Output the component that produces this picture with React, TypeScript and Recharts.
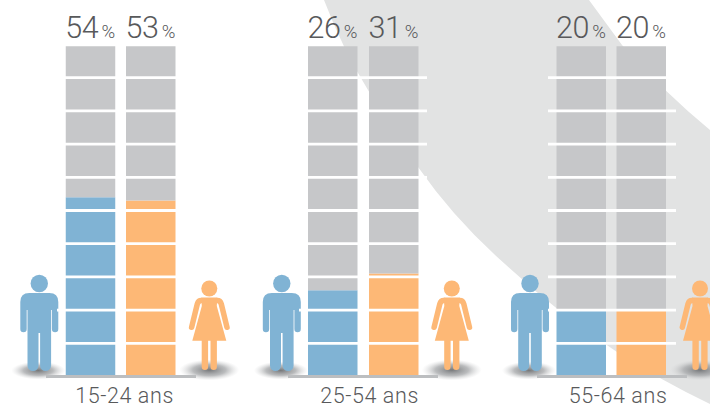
import React from "react";
import { BarChart, Bar, Cell, XAxis, YAxis, ReferenceLine, LabelList } from "recharts";

// values (% per age group)
const ageGroups = ["15-24 ans", "25-54 ans", "55-64 ans"];
const sexes = ["Hommes", "Femmes"];
const menValues = [54, 26, 20];
const womenValues = [53, 31, 20];
const gridTicks = [10, 20, 30, 40, 50, 60, 70, 80, 90];
const BAR_MAX = 99.5;

const axisLefts = [46, 288, 537];
const axisPads = [
  [14.75, 14.75],
  [14, 14],
  [14.5, 15.5],
];
const labelShift = [3.5, 6.5, 6];
const manCenters = [39.3, 281.8, 530];
const womanCenters = [209.3, 451.8, 700];

const BLUE = "#80b3d4";
const ORANGE = "#fdb876";
const GREY = "#c6c7c9";
const TEXT = "#58595b";
const COLORS = [BLUE, ORANGE];

const Man = ({ x }: { x: number }) => (
  <g transform={`translate(${x},370)`} fill={BLUE}>
    <ellipse cx={-1} cy={0.5} rx={27} ry={9} fill="url(#shadow)" />
    <circle cx={0} cy={-86.5} r={8.7} />
    <path d="M-19 -41 V-68 Q-19 -77 -10 -77 H10 Q19 -77 19 -68 V-41 A3.2 3.2 0 0 1 12.6 -41 V-60 H11.8 V-4.5 A5 5 0 0 1 0.8 -4.5 V-37 H-0.8 V-4.5 A5 5 0 0 1 -11.8 -4.5 V-60 H-12.6 V-41 A3.2 3.2 0 0 1 -19 -41 Z" />
  </g>
);

const Woman = ({ x }: { x: number }) => (
  <g transform={`translate(${x},370)`} fill={ORANGE}>
    <ellipse cx={0} cy={0} rx={30} ry={10.5} fill="url(#shadow)" />
    <circle cx={0} cy={-81.5} r={8} />
    <path d="M-8 -72.5 H8 L7.5 -64 L17 -29.3 H-17 L-7.5 -64 Z" />
    <path d="M-8 -69.5 Q-11 -69.5 -12 -66 L-17.7 -42.7 M8 -69.5 Q11 -69.5 12 -66 L17.7 -42.7" fill="none" stroke={ORANGE} strokeWidth={5.5} strokeLinecap="round" />
    <path d="M-7.6 -30 H-1.2 V-3.2 A3.2 3.2 0 0 1 -7.6 -3.2 Z M1.2 -30 H7.6 V-3.2 A3.2 3.2 0 0 1 1.2 -3.2 Z" />
  </g>
);

const PctLabel = (props: any) => {
  const { x, width, value } = props;
  return (
    <g fill={TEXT} fontFamily="Roboto" fontWeight={300}>
      <text x={x - 0.5} y={37.5} fontSize={30.5} letterSpacing={-0.3}>
        {value}
      </text>
      <text x={x + width} y={38} fontSize={18.5} textAnchor="end">
        %
      </text>
    </g>
  );
};

const GridLine = (props: any) => (
  <line x1={props.x1 + 11} x2={props.x2 - 11} y1={props.y1} y2={props.y2} stroke="#fff" strokeWidth={2.8} />
);

const AgeChart = ({ index }: { index: number }) => {
  const data = sexes.map((sex, i) => {
    const pct = i === 0 ? menValues[index] : womenValues[index];
    return { sex, pct, rest: BAR_MAX - pct };
  });

  return (
    <div style={{ position: "absolute", top: 0, left: axisLefts[index] }}>
      <BarChart width={150} height={404} data={data} margin={{ top: 44.5, right: 0, bottom: 0, left: 0 }} barSize={49.5}>
        <XAxis
          dataKey="sex"
          height={27.5}
          tick={false}
          tickLine={false}
          axisLine={{ stroke: "#bcbec0", strokeWidth: 3 }}
          padding={{ left: axisPads[index][0], right: axisPads[index][1] }}
          label={{
            value: ageGroups[index],
            position: "insideBottom",
            offset: 1,
            dx: labelShift[index],
            fill: TEXT,
            fontSize: 21.5,
            letterSpacing: 0.6,
            fontFamily: "Roboto",
            fontWeight: 300,
          }}
        />
        <YAxis hide domain={[0, 100]} />
        <Bar dataKey="pct" stackId="a" isAnimationActive={false}>
          {data.map((d, i) => (
            <Cell key={d.sex} fill={COLORS[i]} />
          ))}
        </Bar>
        <Bar dataKey="rest" stackId="a" fill={GREY} isAnimationActive={false}>
          <LabelList dataKey="pct" content={<PctLabel />} />
        </Bar>
        {gridTicks.map((t) => (
          <ReferenceLine key={t} y={t} shape={<GridLine />} />
        ))}
      </BarChart>
    </div>
  );
};

export default function App() {
  return (
    <div style={{ position: "absolute", top: 0, left: 0, width: 710, height: 404, overflow: "hidden", background: "#fff" }}>
      <svg width={710} height={404} style={{ position: "absolute", top: 0, left: 0 }}>
        <defs>
          <radialGradient id="shadow">
            <stop offset="0%" stopColor="#77797b" />
            <stop offset="55%" stopColor="#a9abad" stopOpacity={0.8} />
            <stop offset="100%" stopColor="#d5d6d7" stopOpacity={0} />
          </radialGradient>
        </defs>
        <path
          d="M324 0 Q343 50 368 90 Q392 130 418 167 Q455 220 505 264 Q560 315 617 352 Q660 380 710 404 V130 Q665 93 622 45 L589 0 Z"
          fill="#e2e3e3"
        />
        {manCenters.map((x) => (
          <Man key={x} x={x} />
        ))}
        {womanCenters.map((x) => (
          <Woman key={x} x={x} />
        ))}
      </svg>
      {ageGroups.map((g, i) => (
        <AgeChart key={g} index={i} />
      ))}
    </div>
  );
}
